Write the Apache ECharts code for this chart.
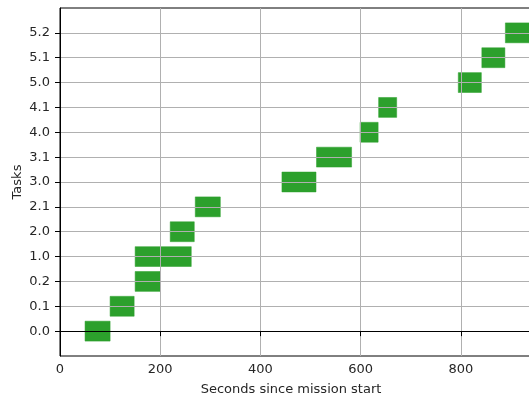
<!DOCTYPE html>
<html>
<head>
<meta charset="utf-8">
<script src="https://cdn.jsdelivr.net/npm/echarts@6/dist/echarts.min.js"></script>
<style>
  html, body { margin: 0; padding: 0; background: #fff; }
  #chart { width: 529px; height: 398px; }
</style>
</head>
<body>
<div id="chart"></div>
<script>
// Task labels, bottom to top
const tasks = ['0.0', '0.1', '0.2', '1.0', '2.0', '2.1', '3.0', '3.1', '4.0', '4.1', '5.0', '5.1', '5.2'];
// Start and end of each task, seconds since mission start
const startTimes = [50, 100, 150, 150, 220, 270, 443, 512, 599, 636, 795, 842, 889];
const endTimes   = [100, 148, 200, 262, 268, 320, 511, 582, 635, 672, 841, 888, 940];
// X tick values
const xTicks = [0, 200, 400, 600, 800, 1000];

const bars = tasks.map((t, i) => [startTimes[i], endTimes[i], i]);
const taskIdx = tasks.map((t, i) => i);

const chart = echarts.init(document.getElementById('chart'), null, { renderer: 'canvas' });
const font = 'DejaVu Sans';
const textColor = '#262626';

chart.setOption({
  animation: false,
  backgroundColor: '#fff',
  textStyle: { fontFamily: font },
  grid: {
    left: 60, top: 8, bottom: 42, right: -32,
    outerBoundsMode: 'none',
    containLabel: false,
    show: true, borderColor: '#000', borderWidth: 1, backgroundColor: 'transparent'
  },
  xAxis: {
    type: 'value',
    min: xTicks[0], max: xTicks[xTicks.length - 1], interval: 200,
    z: 10,
    name: 'Seconds since mission start',
    nameLocation: 'middle',
    nameGap: 27,
    nameMoveOverlap: false,
    nameTextStyle: { fontSize: 13, color: textColor, fontFamily: font, padding: [0, 39, 0, 0] },
    axisLine: { show: true, lineStyle: { color: '#000', width: 1 } },
    axisTick: { show: true, inside: false, length: 5, lineStyle: { color: '#000', width: 1 } },
    axisLabel: { fontSize: 13, color: textColor, fontFamily: font, margin: 7, formatter: v => String(v) },
    splitLine: { show: true, lineStyle: { color: '#b0b0b0', width: 1 } }
  },
  yAxis: {
    type: 'value',
    min: -1, max: tasks.length, interval: 1,
    z: 10,
    name: 'Tasks',
    nameLocation: 'middle',
    nameGap: 36,
    nameMoveOverlap: false,
    nameTextStyle: { fontSize: 13, color: textColor, fontFamily: font },
    axisLine: { show: true, lineStyle: { color: '#000', width: 1 } },
    axisTick: { show: true, length: 5, customValues: taskIdx, lineStyle: { color: '#000', width: 1 } },
    axisLabel: {
      fontSize: 13, color: textColor, fontFamily: font, margin: 10,
      customValues: taskIdx,
      formatter: v => (v >= 0 && v < tasks.length) ? tasks[v] : ''
    },
    splitLine: { show: true, lineStyle: { color: '#b0b0b0', width: 1 } }
  },
  series: [{
    type: 'custom',
    z: 2,
    clip: true,
    encode: { x: [0, 1], y: 2 },
    data: bars,
    renderItem: function (params, api) {
      const row = api.value(2);
      const p0 = api.coord([api.value(0), row + 0.4]);
      const p1 = api.coord([api.value(1), row - 0.4]);
      const shape = echarts.graphic.clipRectByRect(
        { x: p0[0], y: p0[1], width: p1[0] - p0[0], height: p1[1] - p0[1] },
        { x: params.coordSys.x, y: params.coordSys.y, width: params.coordSys.width, height: params.coordSys.height }
      );
      return shape && {
        type: 'rect',
        shape: shape,
        style: { fill: '#2ca02c', stroke: 'rgba(44,160,44,0.5)', lineWidth: 1 }
      };
    }
  }]
});
</script>
</body>
</html>
